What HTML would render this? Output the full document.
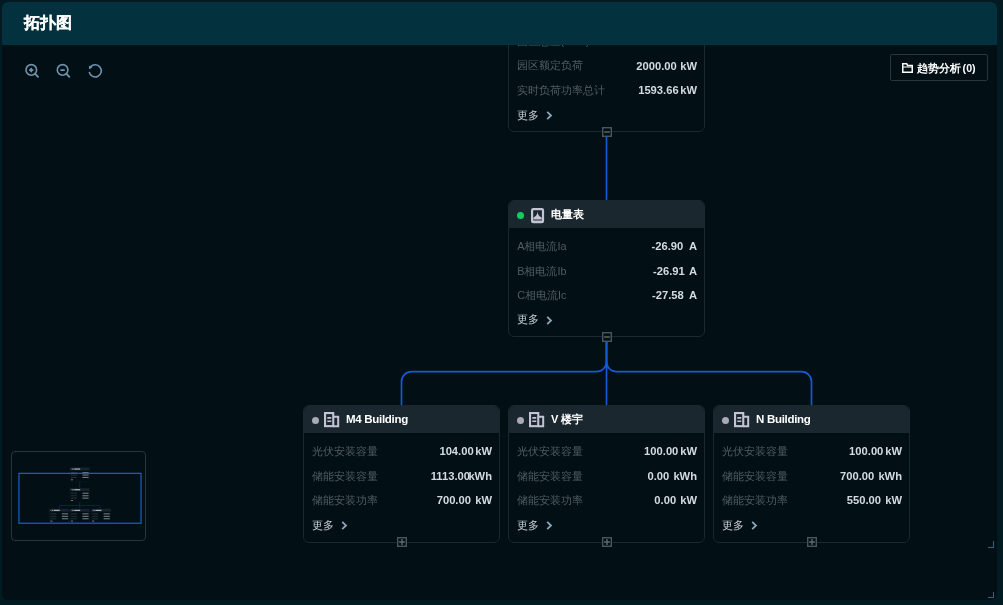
<!DOCTYPE html>
<html lang="zh">
<head>
<meta charset="utf-8">
<title>拓扑图</title>
<style>
*{box-sizing:border-box;margin:0;padding:0}
html,body{width:1003px;height:605px;overflow:hidden;background:#021b22;font-family:"Liberation Sans",sans-serif}
i{font-style:normal}
.panel{position:absolute;left:2px;top:2px;width:995px;height:598px;border-radius:6px;background:#020f15;overflow:hidden;will-change:transform}
.hdr{position:absolute;left:0;top:0;width:100%;height:43px;background:#03323e;z-index:5}
.hdr h1{position:absolute;left:22px;top:11.4px;font-size:16px;line-height:20px;font-weight:bold;color:#fff;-webkit-text-stroke:.12px #fff}
.abs{position:absolute}
.tool{position:absolute;top:61px;width:16px;height:16px;z-index:4}
.btn{position:absolute;left:888px;top:52px;width:98px;height:27px;border:1px solid #2b363c;border-radius:2px;color:#fff;font-size:10.7px;font-weight:bold;line-height:26px;z-index:4;white-space:nowrap;word-spacing:-1.4px}
.btn svg{position:absolute;left:11px;top:8px}
.btn span{position:absolute;left:26px;top:0}
.card{position:absolute;width:197px;border:1px solid #1a282f;border-radius:6px;background:#020f15;overflow:hidden;z-index:2}
.card .ch{position:absolute;left:0;top:0;width:100%;height:27px;background:#1a272e}
.dot{position:absolute;left:7.6px;top:10.6px;width:7px;height:7px;border-radius:50%;background:#a9a9b8}
.dot.g{background:#0fcf60}
.ch svg.ib{position:absolute;left:20.2px;top:6.2px}
.ch svg.im{position:absolute;left:21.8px;top:6.6px}
.ch .t,.ch .tc{position:absolute;left:42px;top:5px;font-size:11.5px;line-height:16px;font-weight:bold;color:#fff;white-space:nowrap;letter-spacing:-.3px}
.ch .tc{font-size:11px;letter-spacing:-.2px;top:5.2px}
.row{position:absolute;left:7.5px;right:7px;height:16px;font-size:10.8px;line-height:16px;white-space:nowrap}
.row .l{position:absolute;left:0;top:0;color:#505d65}
.row .v{position:absolute;right:0;top:.3px;color:#d3dbe0;font-weight:bold;font-size:11.2px}
.more{position:absolute;left:7.5px;height:16px;font-size:10.6px;line-height:16px;color:#c8d0d5;white-space:nowrap}
.more svg{position:absolute;left:29.5px;top:4.5px}
.tog{position:absolute;z-index:3}
.mini{position:absolute;left:9px;top:449px;width:135px;height:90px;border:1px solid #2d3439;border-radius:4px;background:#020f15;z-index:4}
.cm{position:absolute;width:6.5px;height:6.4px;border-right:1.3px solid #2e6685;border-bottom:1.3px solid #2e6685}
</style>
</head>
<body>
<div class="panel">
  <div class="hdr"><h1>拓扑图</h1></div>

  <svg class="tool" style="left:22px" width="16" height="16" viewBox="0 0 16 16" fill="none" stroke="#6e94b0" stroke-width="1.6" stroke-linecap="round"><circle cx="7.3" cy="6.9" r="5.3"/><path d="M11 10.7l3 3.1" stroke-width="1.8"/><path d="M5.75 7.1h3M7.25 5.6v3" stroke-width="1.8"/></svg>
  <svg class="tool" style="left:53px" width="16" height="16" viewBox="0 0 16 16" fill="none" stroke="#6e94b0" stroke-width="1.6" stroke-linecap="round"><circle cx="7.6" cy="6.9" r="5.3"/><path d="M11.3 10.7l3 3.1" stroke-width="1.8"/><path d="M6.05 7.1h3.1" stroke-width="1.8"/></svg>
  <svg class="tool" style="left:85px" width="16" height="16" viewBox="0 0 16 16" fill="none" stroke="#6e94b0" stroke-width="1.6"><path d="M3.53 3.88A6.1 6.1 0 1 1 2.2 8.86"/><path d="M1.9 2.6l.2 3.6 3.2-1.4z" fill="#6e94b0" stroke="none"/></svg>

  <div class="btn"><svg width="11" height="10" viewBox="0 0 11 10" fill="none" stroke="#fff" stroke-width="1.5"><path d="M.75 9.25V.75h4l.8 1.8h4.7v6.7z"/><path d="M.75 4h9.5" stroke-width="1.2"/></svg><span>趋势分析 (0)</span></div>

  <svg class="abs" style="left:0;top:0;z-index:1" width="995" height="597" fill="none" stroke="#145ad6" stroke-width="1.7">
    <path d="M604.5 130V199"/>
    <path d="M604.5 335V403"/>
    <path d="M399.5 403V379.7a10 10 0 0 1 10-10H594.5a10 10 0 0 0 10-10V335"/>
    <path d="M809.5 403V379.7a10 10 0 0 0-10-10H614.5a10 10 0 0 1-10-10V335"/>
  </svg>

  <div class="card" style="left:506px;top:-6px;height:136px">
    <div class="row" style="top:36.1px"><span class="l" style="left:0px">园区总量(kWh)</span><span class="v">0.00<i style="margin-left:4.2px">%</i></span></div>
    <div class="row" style="top:60.3px"><span class="l" style="left:0px">园区额定负荷</span><span class="v">2000.00<i style="margin-left:3.5px">kW</i></span></div>
    <div class="row" style="top:85px"><span class="l" style="left:0px">实时负荷功率总计</span><span class="v">1593.66<i style="margin-left:1.6px">kW</i></span></div>
    <div class="more" style="top:109.6px">更多<svg width="7" height="9" viewBox="0 0 7 9" fill="none" stroke="#8aa5ba" stroke-width="1.8"><path d="M1.2 .9L5 4.5 1.2 8.1"/></svg></div>
  </div>
  <svg class="tog" style="left:599.6px;top:125.1px" width="10" height="10" viewBox="0 0 10 10" fill="#020f15" stroke="#4b565c" stroke-width="1.4"><rect x=".7" y=".7" width="8.6" height="8.6"/><path d="M2.1 5h5.8" stroke="#5e6a70"/></svg>

  <div class="card" style="left:506px;top:198px;height:137px">
    <div class="ch"><i class="dot g"></i><svg class="im" width="14" height="16" viewBox="0 0 14 16" fill="none"><rect x="1.1" y="1.1" width="10.9" height="13.1" rx="1.2" stroke="#c3c4d4" stroke-width="2.2"/><path d="M6.55 3.4C6.4 6.5 5 8 2.4 9.4V11.4H10.7V9.4C8.1 8 6.7 6.5 6.55 3.4Z" fill="#c3c4d4"/><rect x="2" y="12.5" width="9.1" height="1" fill="#c3c4d4"/></svg><span class="tc">电量表</span></div>
    <div class="row" style="top:37.2px"><span class="l" style="left:0.8px">A相电流Ia</span><span class="v">-26.90<i style="margin-left:5.6px">A</i></span></div>
    <div class="row" style="top:61.6px"><span class="l" style="left:0.8px">B相电流Ib</span><span class="v">-26.91<i style="margin-left:4.2px">A</i></span></div>
    <div class="row" style="top:86.1px"><span class="l" style="left:0.8px">C相电流Ic</span><span class="v">-27.58<i style="margin-left:5.2px">A</i></span></div>
    <div class="more" style="top:110.4px">更多<svg width="7" height="9" viewBox="0 0 7 9" fill="none" stroke="#8aa5ba" stroke-width="1.8"><path d="M1.2 .9L5 4.5 1.2 8.1"/></svg></div>
  </div>
  <svg class="tog" style="left:599.6px;top:330.1px" width="10" height="10" viewBox="0 0 10 10" fill="#020f15" stroke="#4b565c" stroke-width="1.4"><rect x=".7" y=".7" width="8.6" height="8.6"/><path d="M2.1 5h5.8" stroke="#5e6a70"/></svg>

  <div class="card" style="left:301px;top:403px;height:138px">
    <div class="ch"><i class="dot"></i><svg class="ib" width="16" height="16" viewBox="0 0 16 16" fill="none" stroke="#c3c4d4"><rect x="1.05" y="1.05" width="8.2" height="13.1" stroke-width="2.1"/><path d="M9.25 4.7h4.95v9.45H9.25" stroke-width="2"/><path d="M3.3 5.9h4M3.3 9.3h4" stroke-width="1.6"/></svg><span class="t">M4 Building</span></div>
    <div class="row" style="top:37.1px"><span class="l" style="left:0px">光伏安装容量</span><span class="v">104.00<i style="margin-left:1.6px">kW</i></span></div>
    <div class="row" style="top:61.9px"><span class="l" style="left:0px">储能安装容量</span><span class="v">1113.00<i style="margin-left:-1.6px">kWh</i></span></div>
    <div class="row" style="top:85.9px"><span class="l" style="left:0px">储能安装功率</span><span class="v">700.00<i style="margin-left:4.3px">kW</i></span></div>
    <div class="more" style="top:110.6px">更多<svg width="7" height="9" viewBox="0 0 7 9" fill="none" stroke="#8aa5ba" stroke-width="1.8"><path d="M1.2 .9L5 4.5 1.2 8.1"/></svg></div>
  </div>
  <svg class="tog" style="left:394.8px;top:535.1px" width="10" height="10" viewBox="0 0 10 10" fill="#020f15" stroke="#4b565c" stroke-width="1.4"><rect x=".7" y=".7" width="8.6" height="8.6"/><path d="M2.1 5h5.8M5 2.1v5.8" stroke="#5e6a70"/></svg>
  <div class="card" style="left:506px;top:403px;height:138px">
    <div class="ch"><i class="dot"></i><svg class="ib" width="16" height="16" viewBox="0 0 16 16" fill="none" stroke="#c3c4d4"><rect x="1.05" y="1.05" width="8.2" height="13.1" stroke-width="2.1"/><path d="M9.25 4.7h4.95v9.45H9.25" stroke-width="2"/><path d="M3.3 5.9h4M3.3 9.3h4" stroke-width="1.6"/></svg><span class="tc">V 楼宇</span></div>
    <div class="row" style="top:37.1px"><span class="l" style="left:0px">光伏安装容量</span><span class="v">100.00<i style="margin-left:1.9px">kW</i></span></div>
    <div class="row" style="top:61.9px"><span class="l" style="left:0px">储能安装容量</span><span class="v">0.00<i style="margin-left:4.2px">kWh</i></span></div>
    <div class="row" style="top:85.9px"><span class="l" style="left:0px">储能安装功率</span><span class="v">0.00<i style="margin-left:4.1px">kW</i></span></div>
    <div class="more" style="top:110.6px">更多<svg width="7" height="9" viewBox="0 0 7 9" fill="none" stroke="#8aa5ba" stroke-width="1.8"><path d="M1.2 .9L5 4.5 1.2 8.1"/></svg></div>
  </div>
  <svg class="tog" style="left:599.8px;top:535.1px" width="10" height="10" viewBox="0 0 10 10" fill="#020f15" stroke="#4b565c" stroke-width="1.4"><rect x=".7" y=".7" width="8.6" height="8.6"/><path d="M2.1 5h5.8M5 2.1v5.8" stroke="#5e6a70"/></svg>
  <div class="card" style="left:711px;top:403px;height:138px">
    <div class="ch"><i class="dot"></i><svg class="ib" width="16" height="16" viewBox="0 0 16 16" fill="none" stroke="#c3c4d4"><rect x="1.05" y="1.05" width="8.2" height="13.1" stroke-width="2.1"/><path d="M9.25 4.7h4.95v9.45H9.25" stroke-width="2"/><path d="M3.3 5.9h4M3.3 9.3h4" stroke-width="1.6"/></svg><span class="t">N Building</span></div>
    <div class="row" style="top:37.1px"><span class="l" style="left:0px">光伏安装容量</span><span class="v">100.00<i style="margin-left:1.9px">kW</i></span></div>
    <div class="row" style="top:61.9px"><span class="l" style="left:0px">储能安装容量</span><span class="v">700.00<i style="margin-left:4.2px">kWh</i></span></div>
    <div class="row" style="top:85.9px"><span class="l" style="left:0px">储能安装功率</span><span class="v">550.00<i style="margin-left:4.2px">kW</i></span></div>
    <div class="more" style="top:110.6px">更多<svg width="7" height="9" viewBox="0 0 7 9" fill="none" stroke="#8aa5ba" stroke-width="1.8"><path d="M1.2 .9L5 4.5 1.2 8.1"/></svg></div>
  </div>
  <svg class="tog" style="left:804.8px;top:535.1px" width="10" height="10" viewBox="0 0 10 10" fill="#020f15" stroke="#4b565c" stroke-width="1.4"><rect x=".7" y=".7" width="8.6" height="8.6"/><path d="M2.1 5h5.8M5 2.1v5.8" stroke="#5e6a70"/></svg>

  <div class="mini"><svg class="abs" style="left:0;top:0" width="133" height="88" viewBox="0 0 133 88"><g fill="none" stroke="#0e3a86" stroke-width=".5"><path d="M67.75 29.4V36.3M67.75 50.1V56.9M47.25 56.9V54.6a1 1 0 0 1 1-1H87.25a1 1 0 0 1 1 1V56.9"/></g><g transform="translate(58 15.6)"><rect width="19.5" height="13.8" rx=".6" fill="#020f15" stroke="#141f25" stroke-width=".4"/><rect width="19.5" height="2.8" fill="#18242a"/><rect x=".8" y="1" width=".8" height=".8" fill="#777"/><rect x="2.2" y=".8" width="1.4" height="1.4" fill="#8a8c98"/><rect x="4.2" y=".9" width="6" height="1.1" fill="#b9bec2"/><rect x=".9" y="4.4" width="6" height="1.1" fill="#232e34"/><rect x="12.4" y="4.4" width="6.2" height="1.1" fill="#6f7a80"/><rect x=".9" y="6.9" width="6" height="1.1" fill="#232e34"/><rect x="12.4" y="6.9" width="6.2" height="1.1" fill="#6f7a80"/><rect x=".9" y="9.3" width="6" height="1.1" fill="#232e34"/><rect x="12.4" y="9.3" width="6.2" height="1.1" fill="#6f7a80"/><rect x=".9" y="11.7" width="2.1" height="1" fill="#6f7a80"/></g><g transform="translate(58 36.3)"><rect width="19.5" height="13.8" rx=".6" fill="#020f15" stroke="#141f25" stroke-width=".4"/><rect width="19.5" height="2.8" fill="#18242a"/><rect x=".8" y="1" width=".8" height=".8" fill="#0fcf60"/><rect x="2.2" y=".8" width="1.4" height="1.4" fill="#8a8c98"/><rect x="4.2" y=".9" width="6" height="1.1" fill="#b9bec2"/><rect x=".9" y="4.4" width="6" height="1.1" fill="#232e34"/><rect x="12.4" y="4.4" width="6.2" height="1.1" fill="#6f7a80"/><rect x=".9" y="6.9" width="6" height="1.1" fill="#232e34"/><rect x="12.4" y="6.9" width="6.2" height="1.1" fill="#6f7a80"/><rect x=".9" y="9.3" width="6" height="1.1" fill="#232e34"/><rect x="12.4" y="9.3" width="6.2" height="1.1" fill="#6f7a80"/><rect x=".9" y="11.7" width="2.1" height="1" fill="#6f7a80"/></g><g transform="translate(37.5 56.9)"><rect width="19.5" height="13.8" rx=".6" fill="#020f15" stroke="#141f25" stroke-width=".4"/><rect width="19.5" height="2.8" fill="#18242a"/><rect x=".8" y="1" width=".8" height=".8" fill="#777"/><rect x="2.2" y=".8" width="1.4" height="1.4" fill="#8a8c98"/><rect x="4.2" y=".9" width="6" height="1.1" fill="#b9bec2"/><rect x=".9" y="4.4" width="6" height="1.1" fill="#232e34"/><rect x="12.4" y="4.4" width="6.2" height="1.1" fill="#6f7a80"/><rect x=".9" y="6.9" width="6" height="1.1" fill="#232e34"/><rect x="12.4" y="6.9" width="6.2" height="1.1" fill="#6f7a80"/><rect x=".9" y="9.3" width="6" height="1.1" fill="#232e34"/><rect x="12.4" y="9.3" width="6.2" height="1.1" fill="#6f7a80"/><rect x=".9" y="11.7" width="2.1" height="1" fill="#6f7a80"/></g><g transform="translate(58 56.9)"><rect width="19.5" height="13.8" rx=".6" fill="#020f15" stroke="#141f25" stroke-width=".4"/><rect width="19.5" height="2.8" fill="#18242a"/><rect x=".8" y="1" width=".8" height=".8" fill="#777"/><rect x="2.2" y=".8" width="1.4" height="1.4" fill="#8a8c98"/><rect x="4.2" y=".9" width="6" height="1.1" fill="#b9bec2"/><rect x=".9" y="4.4" width="6" height="1.1" fill="#232e34"/><rect x="12.4" y="4.4" width="6.2" height="1.1" fill="#6f7a80"/><rect x=".9" y="6.9" width="6" height="1.1" fill="#232e34"/><rect x="12.4" y="6.9" width="6.2" height="1.1" fill="#6f7a80"/><rect x=".9" y="9.3" width="6" height="1.1" fill="#232e34"/><rect x="12.4" y="9.3" width="6.2" height="1.1" fill="#6f7a80"/><rect x=".9" y="11.7" width="2.1" height="1" fill="#6f7a80"/></g><g transform="translate(79.2 56.9)"><rect width="19.5" height="13.8" rx=".6" fill="#020f15" stroke="#141f25" stroke-width=".4"/><rect width="19.5" height="2.8" fill="#18242a"/><rect x=".8" y="1" width=".8" height=".8" fill="#777"/><rect x="2.2" y=".8" width="1.4" height="1.4" fill="#8a8c98"/><rect x="4.2" y=".9" width="6" height="1.1" fill="#b9bec2"/><rect x=".9" y="4.4" width="6" height="1.1" fill="#232e34"/><rect x="12.4" y="4.4" width="6.2" height="1.1" fill="#6f7a80"/><rect x=".9" y="6.9" width="6" height="1.1" fill="#232e34"/><rect x="12.4" y="6.9" width="6.2" height="1.1" fill="#6f7a80"/><rect x=".9" y="9.3" width="6" height="1.1" fill="#232e34"/><rect x="12.4" y="9.3" width="6.2" height="1.1" fill="#6f7a80"/><rect x=".9" y="11.7" width="2.1" height="1" fill="#6f7a80"/></g><rect x="6.95" y="21.35" width="122.1" height="49.9" fill="none" stroke="#1a58c2" stroke-width="1.3"/></svg></div>
  <i class="cm" style="left:985.5px;top:539.4px"></i>
  <i class="cm" style="left:985.5px;top:589.6px"></i>
</div>
</body>
</html>
